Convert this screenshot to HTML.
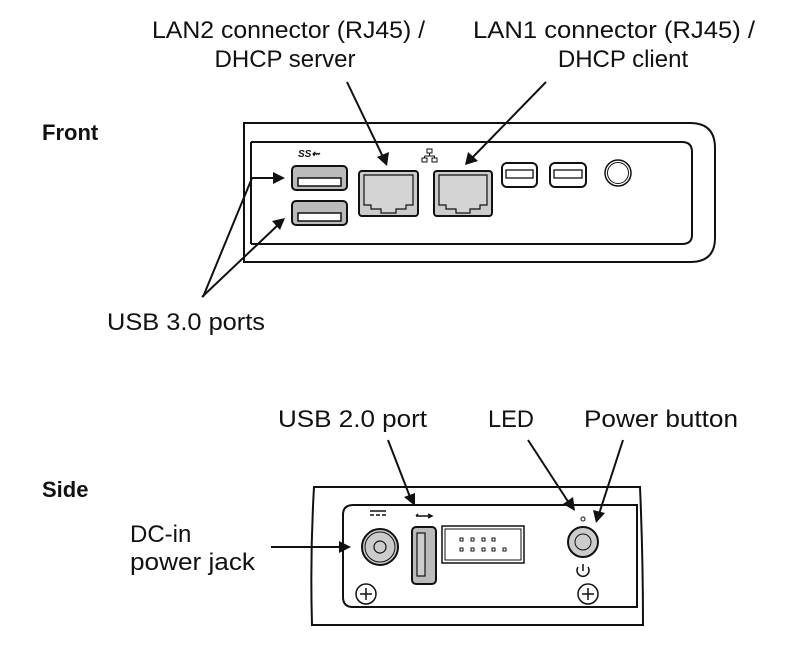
<!DOCTYPE html>
<html><head><meta charset="utf-8"><style>
html,body{margin:0;padding:0;background:#fff;}
svg{display:block;}
text{font-family:"Liberation Sans",Arial,sans-serif;fill:#111;}
</style></head><body>
<svg width="789" height="656" viewBox="0 0 789 656" xmlns="http://www.w3.org/2000/svg">
<g font-size="24">
<text x="152" y="38" textLength="273" lengthAdjust="spacingAndGlyphs">LAN2 connector (RJ45) /</text>
<text x="285" y="67" text-anchor="middle">DHCP server</text>
<text x="473" y="38" textLength="282" lengthAdjust="spacingAndGlyphs">LAN1 connector (RJ45) /</text>
<text x="623" y="67" text-anchor="middle">DHCP client</text>
<text x="42" y="140" font-weight="bold" font-size="22">Front</text>
<text x="107" y="330" textLength="158" lengthAdjust="spacingAndGlyphs">USB 3.0 ports</text>
<text x="42" y="497" font-weight="bold" font-size="22">Side</text>
<text x="130" y="542">DC-in</text>
<text x="130" y="570" textLength="125" lengthAdjust="spacingAndGlyphs">power jack</text>
<text x="278" y="427" textLength="149" lengthAdjust="spacingAndGlyphs">USB 2.0 port</text>
<text x="488" y="427" textLength="46" lengthAdjust="spacingAndGlyphs">LED</text>
<text x="584" y="427" textLength="154" lengthAdjust="spacingAndGlyphs">Power button</text>
</g>
<!-- Front device -->
<g fill="none" stroke="#111" stroke-width="2">
<path d="M244 262 L244 123 L690 123 Q715 123 715 148 L715 238 Q715 262 690 262 Z"/>
<path d="M251 142 L682 142 Q692 142 692 152 L692 235 Q692 244 682 244 L251 244"/>
<line x1="251" y1="142" x2="251" y2="244"/>
</g>
<g stroke="#111" stroke-width="2">
<rect x="292" y="166" width="55" height="24" rx="4" fill="#bbb"/>
<rect x="298" y="178" width="43" height="8" fill="#fff" stroke-width="1.5"/>
<rect x="292" y="201" width="55" height="24" rx="4" fill="#bbb"/>
<rect x="298" y="213" width="43" height="8" fill="#fff" stroke-width="1.5"/>
<rect x="359" y="171" width="59" height="45" rx="3" fill="#ccc"/>
<path d="M364 175 H413 V205 H406 V209 H396 V213 H381 V209 H371 V205 H364 Z" fill="#d4d4d4" stroke-width="1.2"/>
<rect x="434" y="171" width="58" height="45" rx="3" fill="#ccc"/>
<path d="M439 175 H487 V205 H480 V209 H470 V213 H456 V209 H446 V205 H439 Z" fill="#d4d4d4" stroke-width="1.2"/>
<rect x="502" y="163" width="35" height="24" rx="5" fill="#fff"/>
<rect x="506" y="170" width="27" height="8" fill="#fff" stroke-width="1.3"/>
<rect x="550" y="163" width="36" height="24" rx="5" fill="#fff"/>
<rect x="554" y="170" width="28" height="8" fill="#fff" stroke-width="1.3"/>
<circle cx="618" cy="173" r="13" fill="#fff" stroke-width="1.5"/>
<circle cx="618" cy="173" r="10.5" fill="#fff" stroke-width="1"/>
</g>
<text x="298" y="157" font-size="10" font-style="italic" font-weight="bold">SS⇜</text>
<g stroke="#111" stroke-width="1" fill="none">
<rect x="427" y="149" width="5" height="4"/><rect x="422" y="158" width="5" height="4"/><rect x="432" y="158" width="5" height="4"/>
<path d="M429.5 153 V156 M424.5 156 H434.5 V158 M424.5 156 V158"/>
</g>
<!-- Front arrows -->
<g stroke="#111" stroke-width="2" fill="none">
<line x1="347" y1="82" x2="383" y2="157"/>
<line x1="546" y1="82" x2="472" y2="158"/>
<path d="M203 297 L252 178 L276 178"/>
<line x1="202" y1="297" x2="279" y2="224"/>
</g>
<g fill="#111">
<polygon points="387,166 377,157 389,152"/>
<polygon points="465,165 468,152 478,161"/>
<polygon points="285,178 273,172 273,184"/>
<polygon points="285,218 280,230 272,221"/>
</g>
<!-- Side device -->
<g fill="none" stroke="#111" stroke-width="2">
<path d="M312 625 Q310 556 314 487 L640 487 Q643 556 643 625 Z"/>
<path d="M637 505 L353 505 Q343 505 343 515 L343 597 Q343 607 353 607 L637 607 Z"/>
</g>
<g stroke="#111" stroke-width="2">
<circle cx="380" cy="547" r="18" fill="#ccc"/>
<circle cx="380" cy="547" r="15" fill="#ccc" stroke-width="1"/>
<circle cx="380" cy="547" r="6" fill="#ccc" stroke-width="1.2"/>
<rect x="412" y="527" width="24" height="57" rx="4" fill="#bbb"/>
<rect x="417" y="533" width="8" height="43" fill="#ccc" stroke-width="1.2"/>
<rect x="442" y="526" width="82" height="37" fill="#fff" stroke-width="1.5"/>
<rect x="445" y="529" width="76" height="31" fill="#fff" stroke-width="1"/>
<circle cx="583" cy="542" r="15" fill="#ccc"/>
<circle cx="583" cy="542" r="8" fill="#ccc" stroke-width="1"/>
<circle cx="583" cy="519" r="2" fill="#fff" stroke-width="1"/>
<circle cx="366" cy="594" r="10" fill="#fff" stroke-width="1.5"/>
<circle cx="588" cy="594" r="10" fill="#fff" stroke-width="1.5"/>
</g>
<g fill="none" stroke="#111" stroke-width="1.5">
<path d="M366 588 V600 M360 594 H372"/><path d="M588 588 V600 M582 594 H594"/>
<path d="M578 567 A6 6 0 1 0 588 567"/><line x1="583" y1="564" x2="583" y2="571"/>
<line x1="370" y1="511" x2="386" y2="511"/><path d="M370 515 h4 M376 515 h4 M382 515 h4"/>
<path d="M416 516 H432 M416 516 l2 -2 M428 514 l4 2 l-4 2"/>
</g>
<g fill="#fff" stroke="#111" stroke-width="1">
<rect x="460" y="538" width="3" height="3"/><rect x="471" y="538" width="3" height="3"/><rect x="482" y="538" width="3" height="3"/><rect x="492" y="538" width="3" height="3"/>
<rect x="460" y="548" width="3" height="3"/><rect x="471" y="548" width="3" height="3"/><rect x="482" y="548" width="3" height="3"/><rect x="492" y="548" width="3" height="3"/><rect x="503" y="548" width="3" height="3"/>
</g>
<!-- Side arrows -->
<g stroke="#111" stroke-width="2" fill="none">
<line x1="271" y1="547" x2="342" y2="547"/>
<line x1="388" y1="440" x2="410" y2="497"/>
<line x1="528" y1="440" x2="569" y2="503"/>
<line x1="623" y1="440" x2="599" y2="514"/>
</g>
<g fill="#111">
<polygon points="351,547 339,541 339,553"/>
<polygon points="415,506 404,497 415,493"/>
<polygon points="575,511 563,504 573,497"/>
<polygon points="596,523 593,510 605,513"/>
</g>
</svg>
</body></html>
